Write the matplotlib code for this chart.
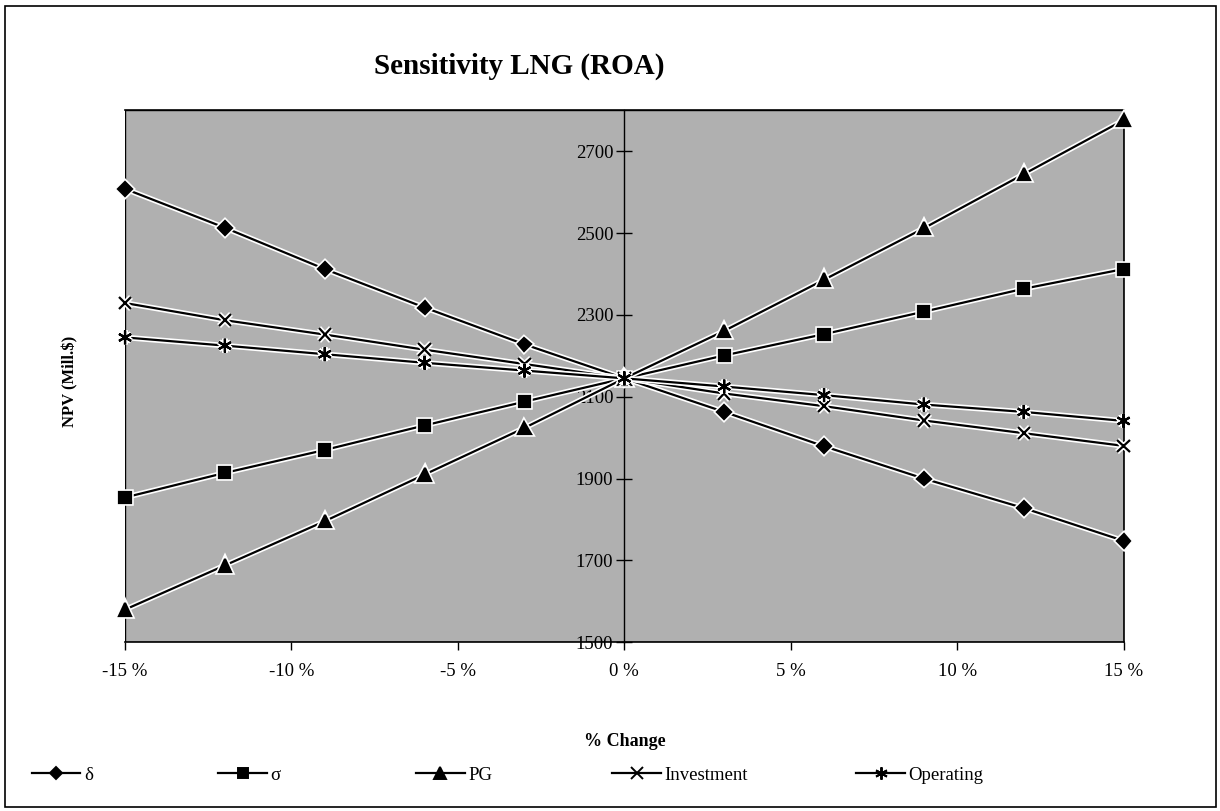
import matplotlib
matplotlib.use("Agg")
import matplotlib.pyplot as plt
import matplotlib.patheffects as pe
from matplotlib.lines import Line2D
from matplotlib.patches import Rectangle

plt.rcParams["font.family"] = ["Liberation Serif", "DejaVu Serif"]

# % change in each input, and the resulting NPV (Mill.$)
pct = [-15, -12, -9, -6, -3, 0, 3, 6, 9, 12, 15]
delta = [2608, 2513, 2412, 2318, 2228, 2145, 2063, 1979, 1900, 1828, 1748]
sigma = [1854, 1914, 1970, 2030, 2088, 2145, 2201, 2253, 2308, 2364, 2412]
pg = [1580, 1688, 1796, 1910, 2024, 2145, 2261, 2386, 2512, 2644, 2776]
investment = [2329, 2287, 2252, 2215, 2180, 2145, 2108, 2077, 2042, 2011, 1980]
operating = [2245, 2225, 2204, 2183, 2164, 2145, 2125, 2104, 2081, 2063, 2041]

labels = ["δ", "σ", "PG", "Investment", "Operating"]
xticks = [-15, -10, -5, 0, 5, 10, 15]
yticks = [1500, 1700, 1900, 2100, 2300, 2500, 2700]

series = [delta, sigma, pg, investment, operating]
markers = ["D", "s", "^", "x", (6, 2, 0)]
msizes = [7, 8, 9, 9, 10]

fig = plt.figure(figsize=(12.2, 8.11), dpi=100)
ax = fig.add_axes([0.1025, 0.208, 0.8185, 0.656])
ax.set_facecolor("#b0b0b0")

halo = [pe.Stroke(linewidth=4, foreground="white"), pe.Normal()]
handles = []
for ys, lab, mk, ms in zip(series, labels, markers, msizes):
    ln, = ax.plot(pct, ys, color="black", lw=1.6, marker=mk, ms=ms,
                  mec="black", mfc="black", mew=1.6, clip_on=False,
                  path_effects=halo, label=lab, zorder=3)
    handles.append(ln)

ax.set_xlim(-15, 15)
ax.set_ylim(1500, 2800)

# y axis sits at 0 %, frame around the plot area
for s in ["top", "right", "bottom"]:
    ax.spines[s].set_linewidth(1.2)
ax.spines["left"].set_position(("data", 0))
ax.spines["left"].set_linewidth(1.0)
ax.add_patch(Rectangle((0, 0), 1, 1, transform=ax.transAxes, fill=False,
                       ec="black", lw=1.0, zorder=1))

ax.set_yticks(yticks)
ax.set_yticklabels([str(v) for v in yticks], fontsize=13.5)
ax.tick_params(axis="y", direction="inout", length=12, width=1, pad=2)
ax.set_xticks(xticks)
ax.set_xticklabels([f"{v} %" for v in xticks], fontsize=13.5)
ax.tick_params(axis="x", direction="out", length=6, width=1, pad=9)

ax.set_xlabel("% Change", fontsize=13, fontweight="bold", labelpad=38)
fig.text(0.058, 0.53, r"NPV (Mill.\$)", rotation=90, fontsize=12,
         fontweight="bold", ha="center", va="center")
fig.text(0.426, 0.918, "Sensitivity LNG (ROA)", fontsize=21,
         fontweight="bold", ha="center", va="center")

# legend entries spread along the bottom
leg_x = [0.012, 0.165, 0.327, 0.488, 0.688]
for h, x in zip(handles, leg_x):
    proxy = Line2D([], [], color="black", lw=1.6, marker=h.get_marker(),
                   ms=h.get_markersize() * 0.9, mfc="black", mec="black",
                   mew=1.4)
    lg = fig.legend(handles=[proxy], labels=[h.get_label()], loc="center left",
                    bbox_to_anchor=(x, 0.044), frameon=False, fontsize=13.5,
                    handlelength=2.6, handletextpad=0.2)

fig.patches.append(Rectangle((0.004, 0.005), 0.993, 0.988,
                             transform=fig.transFigure, fill=False,
                             ec="black", lw=1.2))

fig.savefig("out.png", dpi=100)
